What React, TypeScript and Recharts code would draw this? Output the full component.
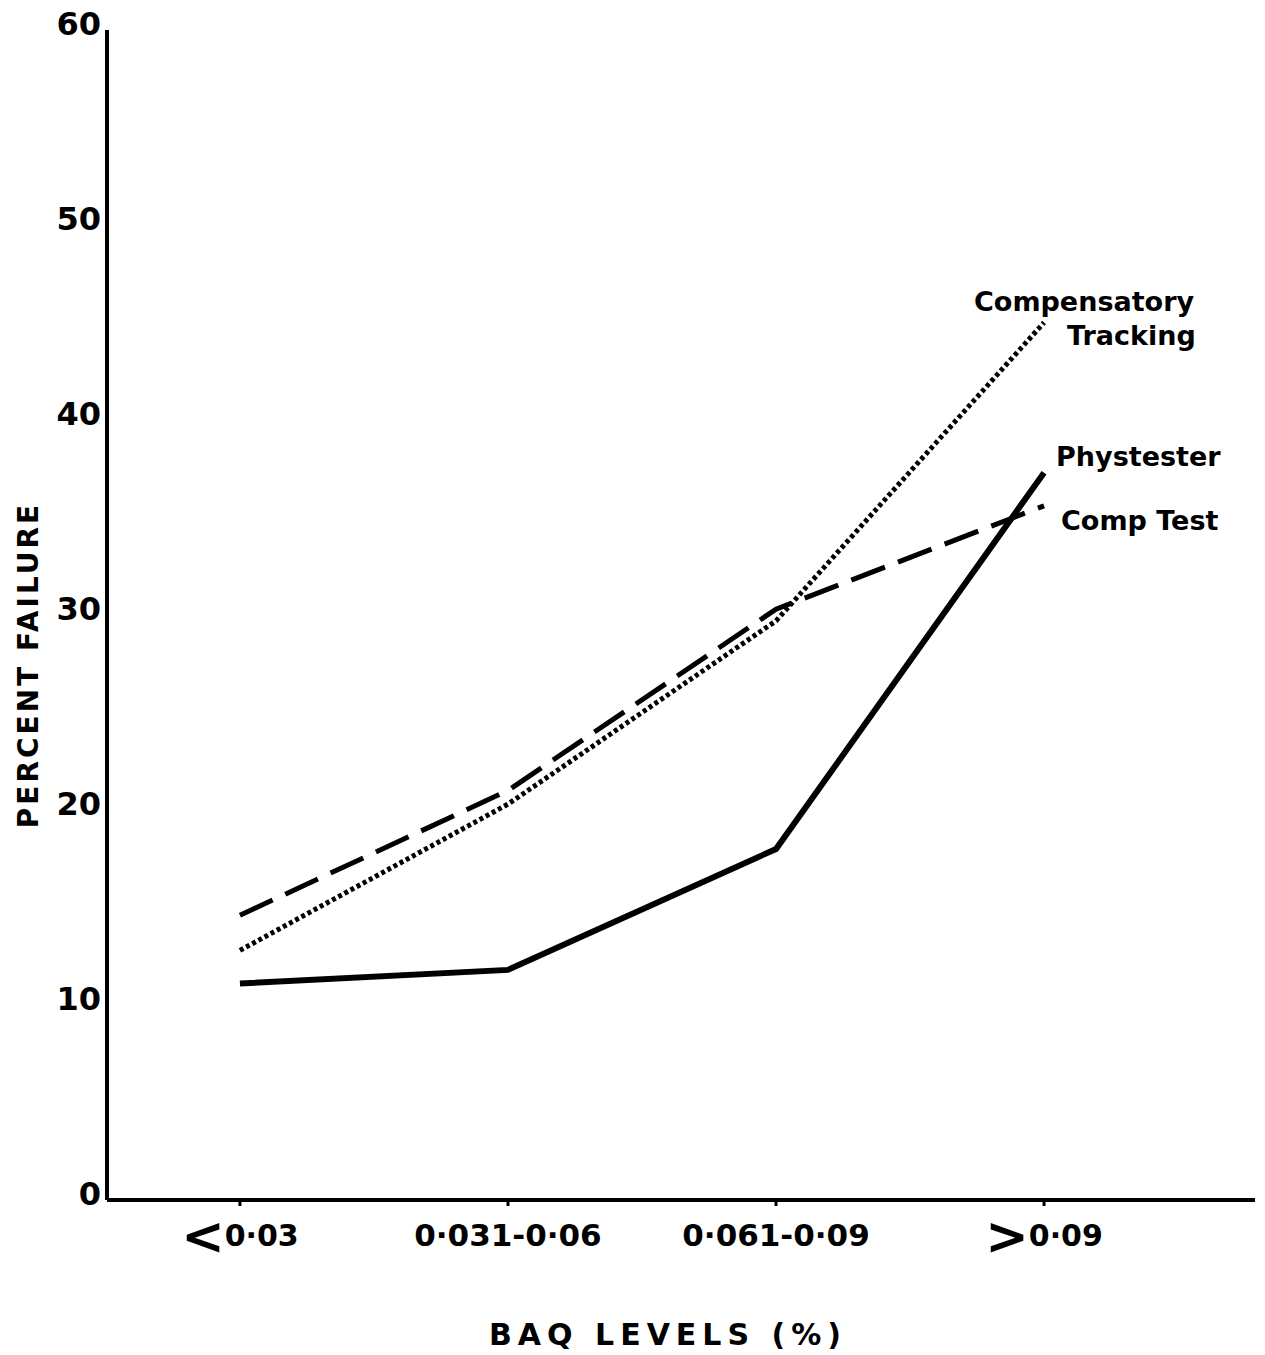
import React from "react";
import { LineChart, Line, XAxis, YAxis } from "recharts";

const categories = ["<0·03", "0·031-0·06", "0·061-0·09", ">0·09"];
const phystester = [11.1, 11.8, 18.0, 37.3];
const compTest = [14.6, 21.0, 30.3, 35.6];
const compTracking = [12.8, 20.3, 29.7, 45.0];
const yTicks = [0, 10, 20, 30, 40, 50, 60];

const data = categories.map((c, i) => ({
  x: i,
  cat: c,
  phystester: phystester[i],
  compTest: compTest[i],
  compTracking: compTracking[i],
}));

const FONT = "'DejaVu Sans', sans-serif";

const XTick = (props: any) => {
  const { x, y, payload } = props;
  const label = categories[payload.value] ?? "";
  const first = label[0];
  if (first === "<" || first === ">") {
    return (
      <text x={x} y={y + 38} textAnchor="middle" fontFamily={FONT} fontWeight="bold" fontSize={30} fill="#000">
        <tspan fontSize={52} dy={8}>{first}</tspan>
        <tspan dy={-8}>{label.slice(1)}</tspan>
      </text>
    );
  }
  return (
    <text x={x} y={y + 38} textAnchor="middle" fontFamily={FONT} fontWeight="bold" fontSize={31} fill="#000" letterSpacing={0}>
      {label}
    </text>
  );
};

const YTick = (props: any) => {
  const { x, y, payload } = props;
  return (
    <text x={x + 2} y={y - 4} textAnchor="end" fontFamily={FONT} fontWeight="bold" fontSize={32} fill="#000" dominantBaseline="middle">
      {payload.value}
    </text>
  );
};

const makeLabel = (lines: string[], dx: number, dy: number) => (props: any) => {
  const { x, y, index } = props;
  if (index !== 3) return null;
  return (
    <text fontFamily={FONT} fontWeight="bold" fontSize={27} fill="#000">
      {lines.map((l, i) => (
        <tspan key={i} x={x + dx + (i === 1 ? 93 : 0)} y={y + dy + i * 34}>
          {l}
        </tspan>
      ))}
    </text>
  );
};

export default function App() {
  return (
    <div style={{ position: "absolute", left: 0, top: 0, width: 1265, height: 1355, background: "#fff" }}>
      <LineChart
        width={1265}
        height={1355}
        data={data}
        margin={{ top: 30, right: 10, bottom: 125, left: 47 }}
      >
        <XAxis
          dataKey="x"
          type="number"
          domain={[-0.496, 3.787]}
          ticks={[0, 1, 2, 3]}
          tick={<XTick />}
          tickLine={{ stroke: "#000", strokeWidth: 3 }}
          tickSize={6}
          axisLine={{ stroke: "#000", strokeWidth: 4 }}
          height={30}
          allowDataOverflow
        />
        <YAxis
          type="number"
          domain={[0, 60]}
          ticks={yTicks}
          tick={<YTick />}
          tickLine={false}
          axisLine={{ stroke: "#000", strokeWidth: 4 }}
          width={60}
        />
        <Line
          dataKey="compTracking"
          stroke="#000"
          strokeWidth={5}
          strokeDasharray="4 3"
          dot={false}
          isAnimationActive={false}
          label={makeLabel(["Compensatory", "Tracking"], -70, -12)}
        />
        <Line
          dataKey="compTest"
          stroke="#000"
          strokeWidth={5}
          strokeDasharray="36 14"
          dot={false}
          isAnimationActive={false}
          label={makeLabel(["Comp  Test"], 17, 24)}
        />
        <Line
          dataKey="phystester"
          stroke="#000"
          strokeWidth={6}
          dot={false}
          isAnimationActive={false}
          label={makeLabel(["Phystester"], 12, -7)}
        />
        <text x={668} y={1345} textAnchor="middle" fontFamily={FONT} fontWeight="bold" fontSize={30} letterSpacing={6} fill="#000">
          BAQ  LEVELS  (%)
        </text>
        <text
          x={38}
          y={665}
          textAnchor="middle"
          fontFamily={FONT}
          fontWeight="bold"
          fontSize={28}
          letterSpacing={3}
          fill="#000"
          transform="rotate(-90 38 665)"
        >
          PERCENT  FAILURE
        </text>
      </LineChart>
    </div>
  );
}
